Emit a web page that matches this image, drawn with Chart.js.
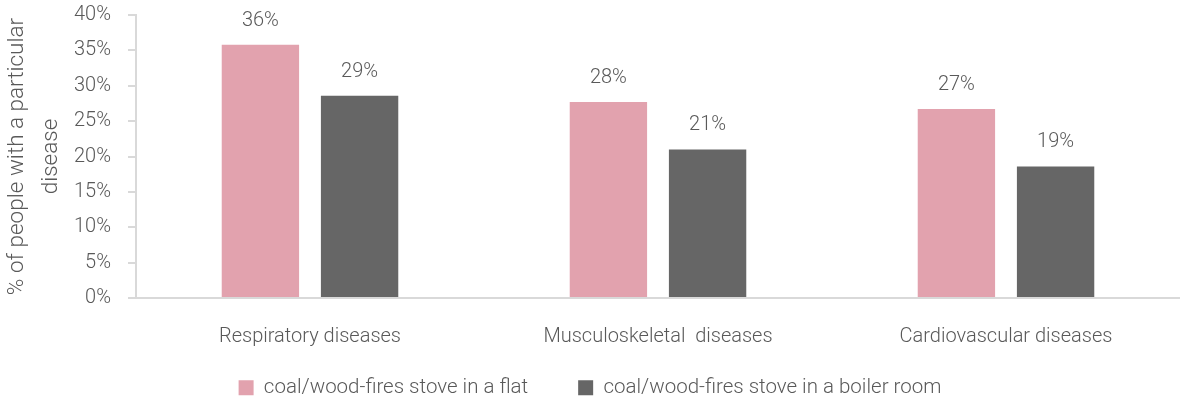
<!DOCTYPE html>
<html>
<head>
<meta charset="utf-8">
<script src="https://cdn.jsdelivr.net/npm/chart.js@4.4.1/dist/chart.umd.min.js"></script>
<style>
    html, body { margin: 0; padding: 0; background: #fff; }
    #wrap { width: 1180px; height: 401px; position: relative; }
</style>
</head>
<body>
<div id="wrap"><canvas id="chart"></canvas></div>
<script>
// ---------- DATA ----------
const categories = ["Respiratory diseases", "Musculoskeletal  diseases", "Cardiovascular diseases"];
const seriesNames = ["coal/wood-fires stove in a flat", "coal/wood-fires stove in a boiler room"];
const flatValues = [35.8, 27.7, 26.7];
const boilerValues = [28.6, 21.0, 18.6];
const yTicks = [0, 5, 10, 15, 20, 25, 30, 35, 40];

// ---------- STYLE ----------
const textColor = "#595959";
const axisColor = "#d9d9d9";
const fontFamily = "Roboto";
const baseFont = { family: fontFamily, size: 20, weight: "300" };
const canvasHeight = 401;
const plotTop = 15;
const plotBottom = 298;
const bottomPad = -7;

// labels above bars (no datalabels plugin available offline)
const barLabels = {
    id: "barLabels",
    afterDatasetsDraw(chart) {
        const ctx = chart.ctx;
        ctx.save();
        ctx.font = `300 20px ${fontFamily}`;
        ctx.fillStyle = textColor;
        ctx.textAlign = "center";
        ctx.textBaseline = "bottom";
        chart.data.datasets.forEach((ds, i) => {
            chart.getDatasetMeta(i).data.forEach((bar, j) => {
                ctx.fillText(Math.round(ds.data[j]) + "%", bar.x, bar.y - 14);
            });
        });
        ctx.restore();
    }
};

// x axis box is kept short so the plot ends at plotBottom;
// its labels are clipped to the box, so let the box reach the canvas bottom
const xLabelRoom = {
    id: "xLabelRoom",
    afterLayout(chart) {
        chart.scales.x.bottom = chart.height;
    }
};

function draw() {
    new Chart(document.getElementById("chart"), {
        type: "bar",
        data: {
            labels: categories,
            datasets: [
                { label: seriesNames[0], data: flatValues, backgroundColor: "#e2a2ae" },
                { label: seriesNames[1], data: boilerValues, backgroundColor: "#666666" }
            ]
        },
        options: {
            responsive: true,
            maintainAspectRatio: false,
            animation: false,
            categoryPercentage: 0.57,
            barPercentage: 0.78,
            layout: { padding: { top: 0, right: 0, bottom: bottomPad, left: 0 } },
            plugins: {
                legend: {
                    position: "bottom",
                    labels: {
                        boxWidth: 15,
                        boxHeight: 15,
                        padding: 50,
                        color: textColor,
                        font: { family: fontFamily, size: 20.5, weight: "300" }
                    }
                },
                tooltip: { enabled: false }
            },
            scales: {
                x: {
                    grid: { display: false },
                    border: { color: axisColor, width: 2 },
                    ticks: { color: textColor, font: baseFont, padding: 19 },
                    afterFit: s => {
                        const lh = s.chart.legend ? s.chart.legend.height : 0;
                        s.height = canvasHeight - bottomPad - plotBottom - lh;
                    }
                },
                y: {
                    min: 0,
                    max: 40,
                    afterBuildTicks: s => { s.ticks = yTicks.map(v => ({ value: v })); },
                    ticks: { color: textColor, font: baseFont, padding: 17, callback: v => v + "%" },
                    grid: { drawOnChartArea: false, drawTicks: true, tickLength: 8, color: axisColor, lineWidth: 2 },
                    border: { color: axisColor, width: 2 },
                    title: {
                        display: true,
                        text: ["% of people with a particular", "disease"],
                        color: textColor,
                        font: { family: fontFamily, size: 22.5, weight: "300", lineHeight: "34px" },
                        padding: { top: 0, bottom: 0 }
                    },
                    afterFit: s => {
                        s.width = 136;
                        s.paddingTop = plotTop;
                        s.paddingBottom = 12;
                    }
                }
            }
        },
        plugins: [barLabels, xLabelRoom]
    });
}

if (document.fonts && document.fonts.load) {
    document.fonts.load(`300 20px ${fontFamily}`).then(draw, draw);
} else {
    draw();
}
</script>
</body>
</html>
